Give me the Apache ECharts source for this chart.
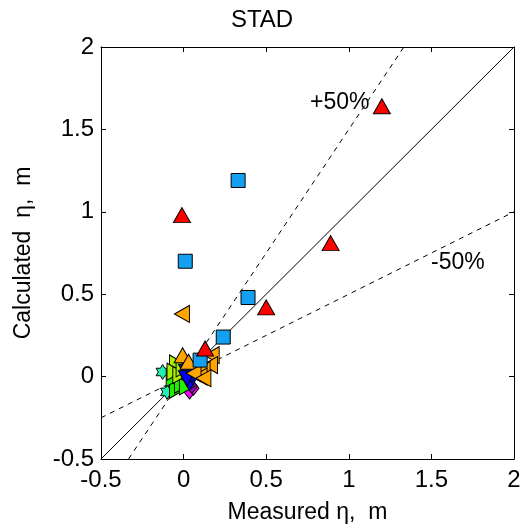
<!DOCTYPE html>
<html><head><meta charset="utf-8">
<script src="https://cdn.jsdelivr.net/npm/echarts@6/dist/echarts.min.js"></script>
<style>html,body{margin:0;padding:0;background:#fff}#c{width:524px;height:530px}</style>
</head><body><div id="c"></div>
<script>
const xTicks = [-0.5, 0, 0.5, 1, 1.5, 2];
const yTicks = [-0.5, 0, 0.5, 1, 1.5, 2];
const redUp = [[1.20,1.64],[0.89,0.81],[0.50,0.42],[-0.01,0.98],[0.13,0.17]];
const blueSquares = [[0.33,1.19],[0.01,0.70],[0.39,0.48],[0.24,0.24],[0.10,0.10]];
const orangeLeft = [[-0.01,0.38],[0.17,0.13],[0.16,0.07],[0.115,0.04],[0.097,0.0],[0.06,0.02],[0.12,-0.01]];
const orangeUp = [[-0.006,0.13],[0.03,0.09]];
const yellowGreen = [[-0.04,0.08],[-0.055,0.03],[-0.02,0.01],[0.0,0.05]];
const limeRight = [[-0.035,-0.02],[-0.04,-0.08],[-0.01,-0.05],[0.02,-0.06],[-0.06,-0.01]];
const blueDown = [[0.02,0.03],[0.036,-0.04],[0.05,0.01],[0.02,-0.01]];
const purpleDiamond = [[-0.025,0.08],[0.05,-0.06]];
const magentaDiamond = [[0.036,-0.093],[0.06,-0.07]];
const tealHex = [[-0.127,0.028],[-0.10,-0.093]];
const oneToOne = [[-0.5,-0.5],[2,2]];
const plus50 = [[-1/3,-0.5],[4/3,2]];
const minus50 = [[-0.5,-0.25],[2,1]];

const hex = 'path://M0,-100L28.9,-50L86.6,-50L57.7,0L86.6,50L28.9,50L0,100L-28.9,50L-86.6,50L-57.7,0L-86.6,-50L-28.9,-50Z';
const border = {borderColor:'#000', borderWidth:1};
function sc(data, color, symbol, size, rot){
  return {type:'scatter', data, symbol, symbolSize:size, symbolRotate:rot||0, symbolKeepAspect:true,
    itemStyle:Object.assign({color, opacity:1}, border), z:3, emphasis:{disabled:true}};
}
function ln(data, dashed){
  return {type:'line', data, symbol:'none', lineStyle:{color:'#000', width:1, type: dashed?[5,5]:'solid'}, z:2, silent:true};
}
const font = 'Liberation Sans, Arial, sans-serif';
const axisCommon = {
  min:-0.5, max:2, interval:0.5,
  axisLine:{show:true, onZero:false, lineStyle:{color:'#000', width:1}},
  axisTick:{show:true, inside:true, length:5, lineStyle:{color:'#000'}},
  splitLine:{show:false}
};
const chart = echarts.init(document.getElementById('c'));
chart.setOption({
  animation:false,
  title:{text:'STAD', left:'center', top:3, textStyle:{fontFamily:font, fontSize:24, fontWeight:'normal', color:'#000'}},
  grid:{left:101, top:47, width:413, height:412},
  xAxis:[
    Object.assign({type:'value', position:'bottom', name:'Measured η,  m', nameLocation:'middle', nameGap:42,
      nameTextStyle:{fontFamily:font, fontSize:23, color:'#000'},
      axisLabel:{fontFamily:font, fontSize:24, color:'#000', margin:9, formatter:v=>String(v)}}, axisCommon),
    Object.assign({type:'value', position:'top', axisLabel:{show:false}}, axisCommon)
  ],
  yAxis:[
    Object.assign({type:'value', position:'left', name:'Calculated  η,  m', nameLocation:'middle', nameGap:66,
      nameTextStyle:{fontFamily:font, fontSize:23, color:'#000'},
      axisLabel:{fontFamily:font, fontSize:24, color:'#000', margin:7, formatter:v=>String(v)}}, axisCommon),
    Object.assign({type:'value', position:'right', axisLabel:{show:false}}, axisCommon)
  ],
  graphic:[
    {type:'text', left:310, top:91, style:{text:'+50%', font:'23px '+font, fill:'#000'}},
    {type:'text', left:431, top:251, style:{text:'-50%', font:'23px '+font, fill:'#000'}}
  ],
  series:[
    ln(oneToOne,false), ln(plus50,true), ln(minus50,true),
    sc(tealHex,'#22F0B0',hex,15),
    sc(magentaDiamond,'#FF00FF','diamond',[11,14]),
    sc(purpleDiamond,'#9900CC','diamond',[11,14]),
    sc(limeRight,'#22EE00','triangle',[17,15],-90),
    sc(yellowGreen,'#AAEE00','triangle',[17,15],-90),
    sc(blueDown,'#0000FF','triangle',[17,15],180),
    sc(orangeUp,'#FFA500','triangle',[17,15],0),
    sc(orangeLeft,'#FFA500','triangle',[17,15],90),
    sc(blueSquares,'#14A0F0','rect',14),
    sc(redUp,'#FF0000','triangle',[17,15],0)
  ]
});
</script></body></html>
